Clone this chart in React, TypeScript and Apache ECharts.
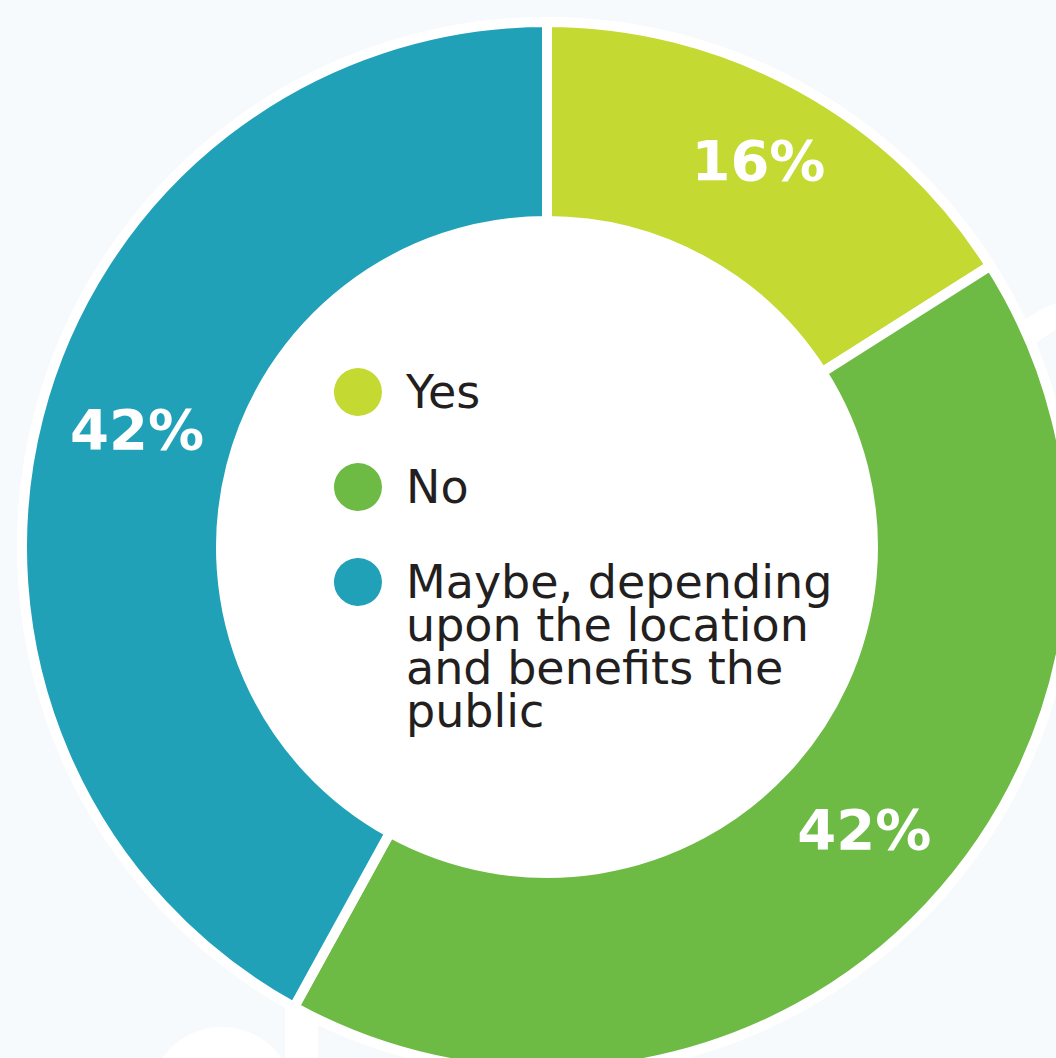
import React, { useEffect, useRef } from "react";
import * as echarts from "echarts";

const categories = ["Yes", "No", "Maybe, depending upon the location and benefits the public"];
const legendLabels = ["Yes", "No", "\n\n\nMaybe, depending\nupon the location\nand benefits the\npublic"];
const values = [16, 42, 42];
const colors = ["#c4d932", "#6dba45", "#20a1b8"];

export default function App() {
  const ref = useRef<HTMLDivElement>(null);
  useEffect(() => {
    if (!ref.current) return;
    const chart = echarts.init(ref.current, null, { renderer: "svg" });
    const cx = 547;
    const cy = 547;
    const legendText = {
      fontFamily: "DejaVu Sans",
      fontSize: 46,
      lineHeight: 43,
      color: "#231f20",
      padding: [0, 0, 0, 18],
    };
    const legendTops = [366, 461, 430];
    const legends = categories.map((name, i) => ({
      orient: "vertical",
      left: 332,
      top: legendTops[i],
      padding: 0,
      icon: "circle",
      itemWidth: 50,
      itemHeight: 50,
      selectedMode: false,
      data: [name],
      formatter: () => legendLabels[i],
      textStyle: legendText,
    }));
    chart.setOption({
      animation: false,
      backgroundColor: "#f6fafc",
      graphic: [
        { type: "circle", shape: { cx: 222, cy: 1100, r: 73 }, style: { fill: "#ffffff" }, z: 0 },
        { type: "rect", shape: { x: 285, y: 1000, width: 33, height: 58 }, style: { fill: "#ffffff" }, z: 0 },
        { type: "ring", shape: { cx: 1100, cy: 420, r: 125, r0: 100 }, style: { fill: "#ffffff" }, z: 0 },
      ],
      legend: legends,
      series: [
        {
          type: "pie",
          silent: true,
          z: 1,
          center: [cx, cy],
          radius: [0, 530],
          label: { show: false },
          labelLine: { show: false },
          itemStyle: { color: "#ffffff" },
          data: [{ value: 1, name: "__bg" }],
        },
        {
          type: "pie",
          z: 2,
          center: [cx, cy],
          radius: [326, 525],
          startAngle: 90,
          clockwise: true,
          itemStyle: { borderColor: "#ffffff", borderWidth: 10 },
          label: {
            show: true,
            position: "inside",
            formatter: "{v|{c}%}\n{s| }",
            padding: [0, 0, 0, 10],
            rich: {
              v: {
                color: "#ffffff",
                fontFamily: "DejaVu Sans",
                fontWeight: "bold",
                fontSize: 56,
                lineHeight: 60,
              },
              s: { fontSize: 1, lineHeight: 22, height: 22 },
            },
          },
          labelLine: { show: false },
          emphasis: { disabled: true },
          data: categories.map((name, i) => ({
            name,
            value: values[i],
            itemStyle: { color: colors[i] },
          })),
        },
      ],
    });
    return () => chart.dispose();
  }, []);
  return (
    <div
      ref={ref}
      style={{ position: "fixed", left: 0, top: 0, width: 1056, height: 1058 }}
    />
  );
}
